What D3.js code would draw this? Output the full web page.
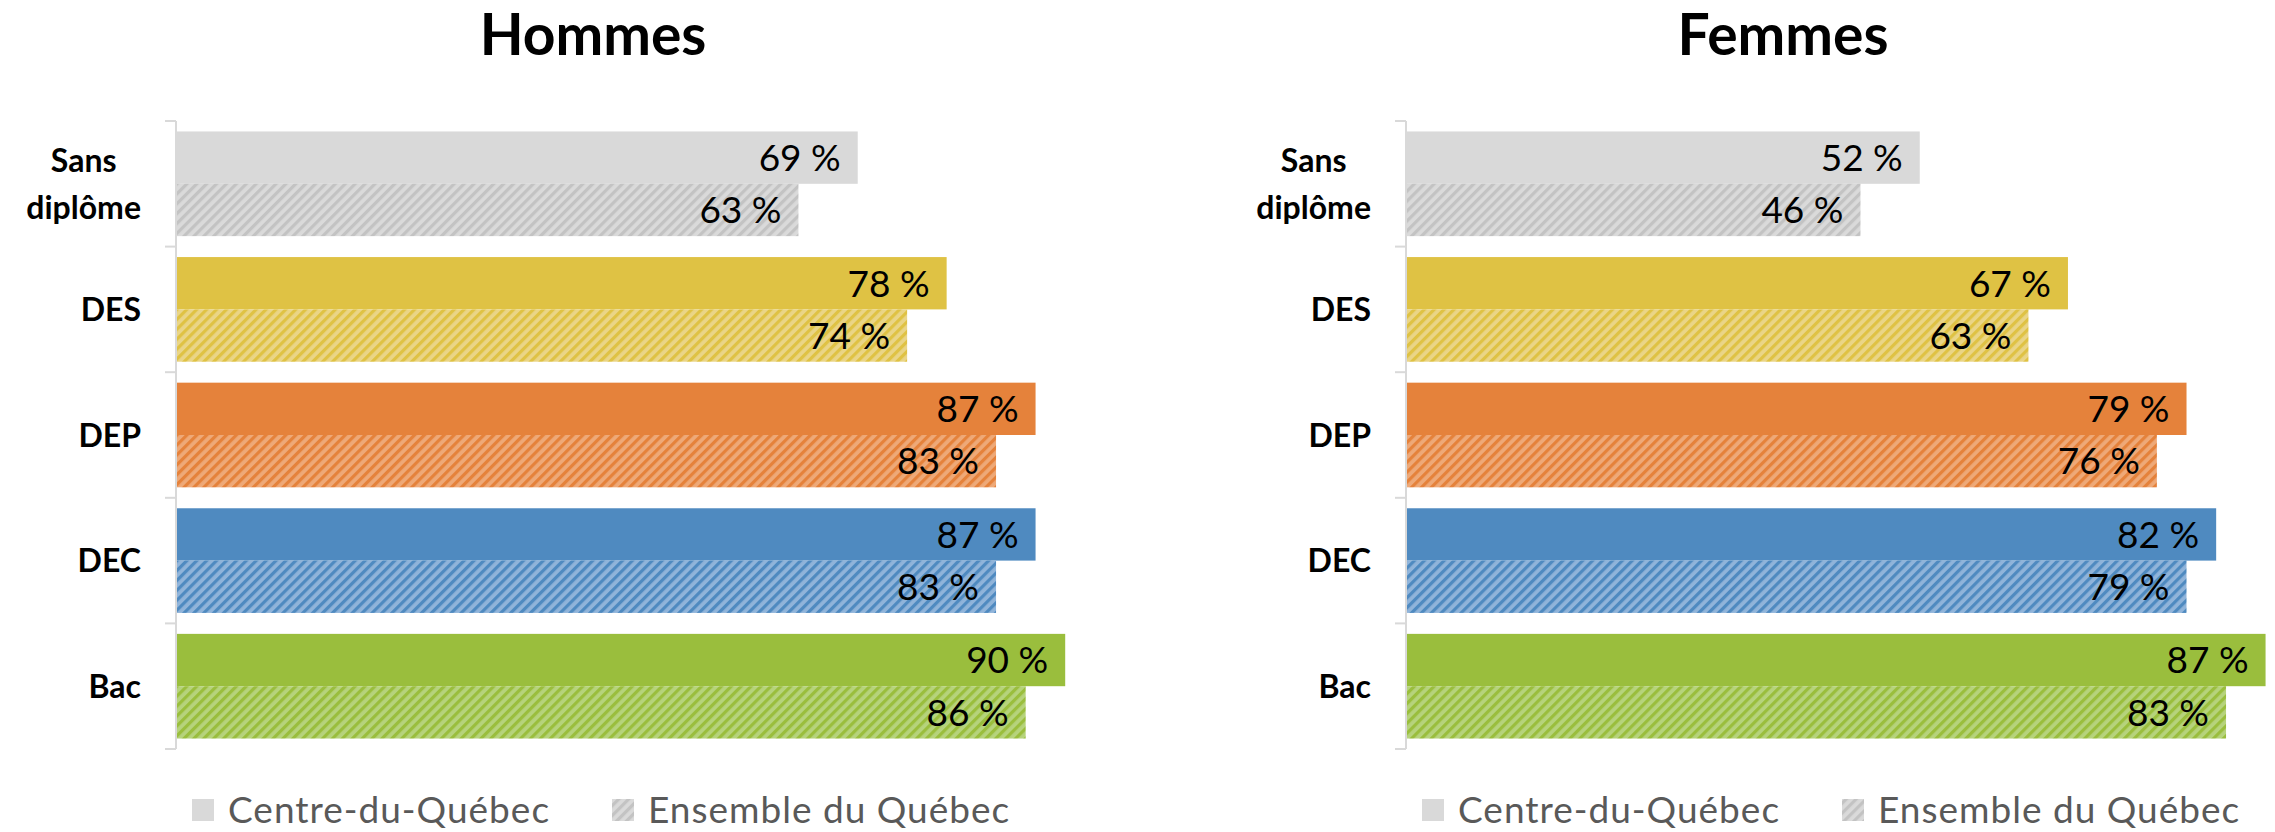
<!DOCTYPE html>
<html lang="fr">
<head>
<meta charset="utf-8">
<title>Hommes / Femmes</title>
<script src="https://cdnjs.cloudflare.com/ajax/libs/d3/7.8.5/d3.min.js"></script>
<style>
  body { margin: 0; background: #fff; }
  svg { display: block; font-family: Lato, "Open Sans", sans-serif; }
</style>
</head>
<body>
<div id="chart"></div>
<script>
// data
const categories = ["Sans diplôme", "DES", "DEP", "DEC", "Bac"];
const series = ["Centre-du-Québec", "Ensemble du Québec"];
const hommesCentre = [69, 78, 87, 87, 90];
const hommesQuebec = [63, 74, 83, 83, 86];
const femmesCentre = [52, 67, 79, 82, 87];
const femmesQuebec = [46, 63, 76, 79, 83];

const solid = ["#d9d9d9", "#dfc244", "#e5823b", "#4f8ac0", "#9abe3d"];
const light = ["#dadada", "#ead587", "#eea978", "#90b4da", "#b6d37c"];
const stripe = ["#c3c3c3", "#dfc244", "#e5823b", "#4f8ac0", "#9abe3d"];

const W = 2275, H = 832;
const plotTop = 121, plotBottom = 749;

const svg = d3.select("#chart").append("svg")
  .attr("width", W)
  .attr("height", H);

// hatch patterns, one per category
const defs = svg.append("defs");
categories.forEach((c, i) => {
  const p = defs.append("pattern")
    .attr("id", "hatch" + i)
    .attr("patternUnits", "userSpaceOnUse")
    .attr("width", 7).attr("height", 7)
    .attr("patternTransform", "rotate(45)");
  p.append("rect").attr("width", 7).attr("height", 7).attr("fill", light[i]);
  p.append("rect").attr("width", 3.2).attr("height", 7).attr("fill", stripe[i]);
});

const panels = [
  {title: "Hommes", centre: hommesCentre, quebec: hommesQuebec, x0: 176, titleX: 593},
  {title: "Femmes", centre: femmesCentre, quebec: femmesQuebec, x0: 1406, titleX: 1783}
];

const y = d3.scaleBand().domain(categories).range([plotTop, plotBottom]);
const ySub = d3.scaleBand().domain(series).range([0, y.bandwidth()]).paddingOuter(0.2);

panels.forEach(panel => {
  const g = svg.append("g");
  const x = d3.scaleLinear().domain([0, 100]).range([panel.x0, panel.x0 + 988]);

  g.append("text")
    .attr("x", panel.titleX)
    .attr("y", 55)
    .attr("text-anchor", "middle")
    .attr("font-weight", "bold")
    .attr("font-size", 57)
    .text(panel.title);

  // bars
  const rows = categories.map((c, i) => ({cat: c, i: i, vals: [panel.centre[i], panel.quebec[i]]}));
  const row = g.selectAll(".row").data(rows).enter().append("g")
    .attr("transform", d => "translate(0," + y(d.cat) + ")");

  row.selectAll("rect")
    .data(d => d.vals.map((v, k) => ({v: v, k: k, i: d.i})))
    .enter().append("rect")
    .attr("x", x(0))
    .attr("y", d => ySub(series[d.k]))
    .attr("width", d => x(d.v) - x(0))
    .attr("height", ySub.bandwidth())
    .attr("fill", d => d.k == 0 ? solid[d.i] : "url(#hatch" + d.i + ")");

  row.selectAll(".lbl")
    .data(d => d.vals.map((v, k) => ({v: v, k: k})))
    .enter().append("text")
    .attr("class", "lbl")
    .attr("x", d => x(d.v) - 17)
    .attr("y", d => ySub(series[d.k]) + ySub.bandwidth() / 2)
    .attr("dy", "0.36em")
    .attr("text-anchor", "end")
    .attr("font-size", 37)
    .attr("fill", "#000")
    .text(d => d.v + " %");

  // axis line and ticks
  g.append("line")
    .attr("x1", x(0)).attr("x2", x(0))
    .attr("y1", plotTop).attr("y2", plotBottom)
    .attr("stroke", "#d9d9d9").attr("stroke-width", 2);
  const ticks = categories.map(c => y(c)).concat([plotBottom]);
  g.selectAll(".tick").data(ticks).enter().append("line")
    .attr("x1", x(0) - 11).attr("x2", x(0))
    .attr("y1", d => d).attr("y2", d => d)
    .attr("stroke", "#d9d9d9").attr("stroke-width", 2);

  // category labels
  const labelRight = x(0) - 35;
  categories.forEach(c => {
    const lines = c.split(" ");
    const t = g.append("text")
      .attr("font-weight", "bold")
      .attr("font-size", 32)
      .attr("text-anchor", "middle");
    const cy = y(c) + y.bandwidth() / 2;
    lines.forEach((ln, j) => {
      t.append("tspan")
        .attr("y", cy + (j - (lines.length - 1) / 2) * 47)
        .attr("dy", "0.36em")
        .text(ln);
    });
    let maxW = 0;
    t.selectAll("tspan").each(function () {
      maxW = Math.max(maxW, this.getComputedTextLength());
    });
    t.selectAll("tspan").attr("x", labelRight - maxW / 2);
  });

  // legend
  const legend = g.append("g");
  const lx = [16, 436];
  series.forEach((s, k) => {
    legend.append("rect")
      .attr("x", x(0) + lx[k]).attr("y", 799)
      .attr("width", 22).attr("height", 22)
      .attr("fill", k == 0 ? solid[0] : "url(#hatch0)");
    legend.append("text")
      .attr("x", x(0) + lx[k] + 36).attr("y", 810)
      .attr("dy", "0.36em")
      .attr("font-size", 37)
      .attr("letter-spacing", 1)
      .attr("fill", "#595959")
      .text(s);
  });
});
</script>
</body>
</html>
